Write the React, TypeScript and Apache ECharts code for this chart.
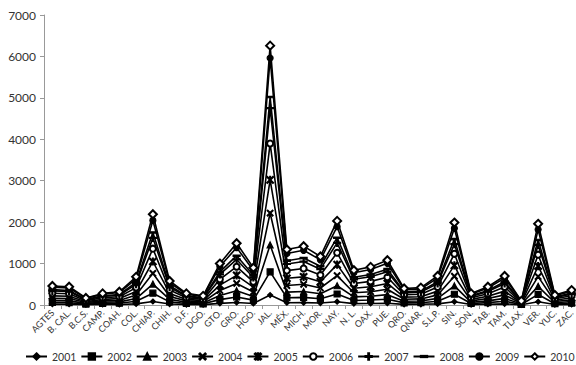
import React, { useEffect, useRef } from "react";
import * as echarts from "echarts";

const states = ["AGTES", "B. CAL.", "B.C.S.", "CAMP.", "COAH.", "COL.", "CHIAP.", "CHIH.", "D.F.", "DGO.", "GTO.", "GRO.", "HGO.", "JAL.", "MÉX.", "MICH.", "MOR.", "NAY.", "N. L.", "OAX.", "PUE.", "QRO.", "QNAR.", "S.L.P.", "SIN.", "SON.", "TAB.", "TAM.", "TLAX.", "VER.", "YUC.", "ZAC."];

const years = ["2001", "2002", "2003", "2004", "2005", "2006", "2007", "2008", "2009", "2010"];

const v2001 = [20, 18, 8, 12, 13, 27, 85, 23, 11, 9, 40, 60, 36, 240, 55, 57, 47, 80, 34, 37, 43, 16, 17, 28, 80, 11, 18, 28, 4, 78, 10, 14];
const v2002 = [60, 55, 22, 36, 42, 90, 285, 75, 36, 28, 130, 195, 117, 800, 175, 185, 150, 265, 110, 120, 140, 52, 55, 90, 260, 36, 57, 90, 13, 255, 31, 47];
const v2003 = [105, 100, 40, 65, 75, 155, 505, 135, 65, 50, 230, 345, 207, 1450, 310, 325, 270, 465, 195, 210, 250, 92, 97, 160, 460, 65, 100, 160, 23, 450, 55, 83];
const v2004 = [160, 155, 60, 100, 110, 240, 765, 205, 100, 77, 350, 520, 315, 2220, 470, 500, 410, 710, 295, 320, 380, 140, 147, 245, 695, 100, 155, 245, 35, 685, 84, 126];
const v2005 = [220, 210, 80, 135, 155, 325, 1050, 280, 135, 105, 480, 715, 430, 3020, 645, 680, 560, 975, 405, 440, 520, 190, 200, 335, 955, 135, 210, 335, 48, 940, 115, 173];
const v2006 = [285, 270, 105, 175, 200, 420, 1360, 360, 175, 135, 620, 925, 560, 3900, 830, 880, 725, 1260, 520, 570, 670, 250, 260, 435, 1235, 175, 272, 435, 62, 1215, 150, 223];
const v2007 = [340, 325, 125, 205, 235, 505, 1620, 430, 205, 163, 740, 1100, 665, 4750, 990, 1050, 865, 1500, 620, 680, 800, 295, 310, 520, 1470, 205, 325, 520, 74, 1450, 178, 266];
const v2008 = [370, 350, 135, 225, 255, 545, 1750, 465, 225, 176, 800, 1190, 720, 5020, 1070, 1135, 935, 1625, 670, 735, 865, 320, 335, 560, 1590, 225, 350, 560, 80, 1570, 192, 288];
const v2009 = [430, 410, 160, 260, 300, 630, 2040, 540, 260, 205, 930, 1385, 835, 5960, 1245, 1320, 1090, 1890, 780, 855, 1005, 370, 390, 650, 1850, 260, 410, 650, 93, 1820, 223, 335];
const v2010 = [460, 440, 170, 280, 320, 680, 2190, 580, 280, 220, 1000, 1490, 900, 6260, 1340, 1420, 1170, 2030, 840, 920, 1080, 400, 420, 700, 1990, 280, 440, 700, 100, 1960, 240, 360];

const seriesValues = [v2001, v2002, v2003, v2004, v2005, v2006, v2007, v2008, v2009, v2010];

const xPath = "path://M0,1L1,0L5,4L9,0L10,1L6,5L10,9L9,10L5,6L1,10L0,9L4,5Z";
const starPath = "path://M0,1L1,0L4.4,3.4V0H5.6V3.4L9,0L10,1L6,5L10,9L9,10L5.6,6.6V10H4.4V6.6L1,10L0,9L4,5Z";
const plusPath = "path://M4.3,0H5.7V4.3H10V5.7H5.7V10H4.3V5.7H0V4.3H4.3Z";
const dashPath = "path://M0,0M10,10M0,4H10V6H0Z";

const symbols: any[] = [
  ["diamond", 5],
  ["rect", 6],
  ["triangle", 6],
  [xPath, 6],
  [starPath, 7],
  ["emptyCircle", 6],
  [plusPath, 7],
  [dashPath, 7],
  ["circle", 6],
  ["emptyDiamond", 8],
];

export default function App() {
  const ref = useRef<HTMLDivElement>(null);
  useEffect(() => {
    document.body.style.overflow = "hidden";
    document.documentElement.style.overflow = "hidden";
    const chart = echarts.init(ref.current!, null, { renderer: "svg" });
    const font = "Lato";
    chart.setOption({
      animation: false,
      backgroundColor: "#ffffff",
      textStyle: { fontFamily: font },
      grid: {
        left: 44,
        right: 70,
        top: 15,
        bottom: 60,
        containLabel: false,
        outerBoundsMode: "none",
      },
      legend: {
        left: 20,
        top: 346,
        width: 700,
        itemWidth: 21,
        itemHeight: 8,
        itemGap: 4,
        textStyle: { fontFamily: font, fontSize: 10.5, color: "#333" },
        data: years,
      },
      xAxis: {
        type: "category",
        data: states,
        boundaryGap: true,
        axisLine: { lineStyle: { color: "#999", width: 1 } },
        axisTick: { show: true, interval: 0, length: 4, lineStyle: { color: "#999" } },
        axisLabel: {
          interval: 0,
          rotate: 45,
          fontSize: 9,
          fontFamily: font,
          color: "#333",
          margin: 6,
        },
        splitLine: { show: false },
      },
      yAxis: {
        type: "value",
        min: 0,
        max: 7000,
        interval: 1000,
        axisLine: { show: true, lineStyle: { color: "#999", width: 1 } },
        axisTick: { show: true, length: 4, lineStyle: { color: "#999" } },
        axisLabel: {
          fontSize: 12,
          fontFamily: font,
          color: "#333",
          margin: 8,
          formatter: (v: number) => String(v),
        },
        splitLine: { show: false },
      },
      series: years.map((y, i) => ({
        name: y,
        type: "line",
        data: seriesValues[i],
        symbol: symbols[i][0],
        symbolSize: symbols[i][1],
        showAllSymbol: true,
        lineStyle: { color: "#000", width: 1.6 },
        itemStyle: { color: "#000", borderColor: "#000", borderWidth: 1.2 },
        emphasis: { disabled: true },
      })),
    });
    return () => chart.dispose();
  }, []);
  return (
    <div
      ref={ref}
      style={{ position: "absolute", left: 0, top: 0, width: 650, height: 365 }}
    />
  );
}
